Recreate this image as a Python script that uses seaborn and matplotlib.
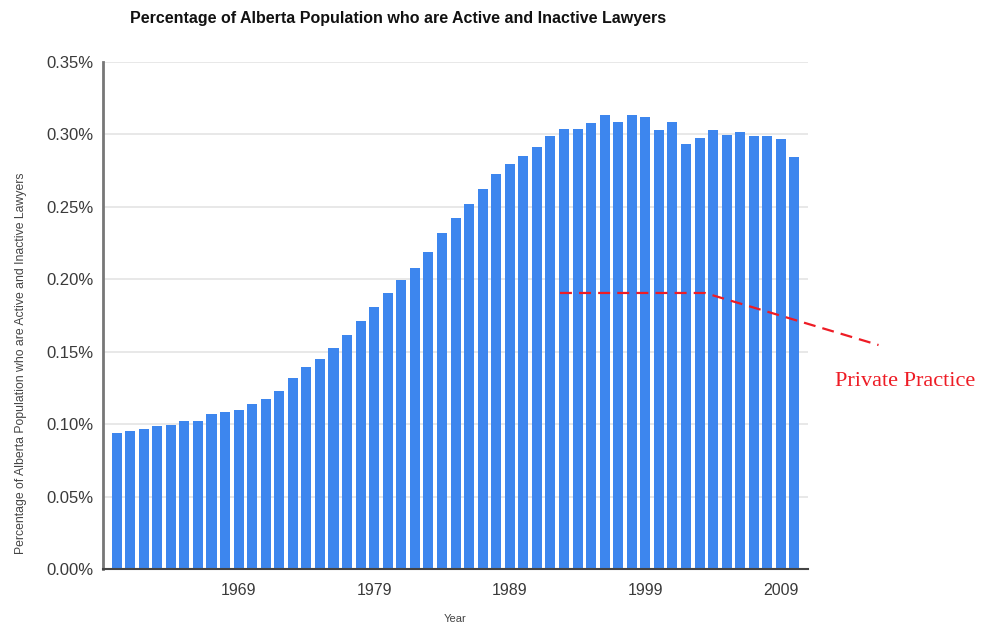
import numpy as np
import pandas as pd
import seaborn as sns
import matplotlib.pyplot as plt
from matplotlib.ticker import FuncFormatter

# Data (percent of Alberta population)
years = list(range(1960, 2011))
pct_lawyers = [
    0.0941, 0.0953, 0.0965, 0.0990, 0.0997, 0.1022, 0.1024, 0.1068, 0.1086, 0.1100,
    0.1137, 0.1174, 0.1229, 0.1321, 0.1394, 0.1452, 0.1523, 0.1615, 0.1712, 0.1810,
    0.1903, 0.1994, 0.2079, 0.2186, 0.2317, 0.2424, 0.2517, 0.2620, 0.2726, 0.2797,
    0.2850, 0.2914, 0.2988, 0.3038, 0.3034, 0.3079, 0.3132, 0.3084, 0.3132, 0.3121,
    0.3029, 0.3082, 0.2930, 0.2974, 0.3029, 0.2994, 0.3013, 0.2988, 0.2988, 0.2965,
    0.2841,
]
year_ticks = [1969, 1979, 1989, 1999, 2009]
y_ticks = [0.00, 0.05, 0.10, 0.15, 0.20, 0.25, 0.30, 0.35]

# hand-drawn "Private Practice" marker line
pp_x = [1992.7, 2003.4, 2016.2]
pp_y = [0.1905, 0.1905, 0.1546]

df = pd.DataFrame({"Year": years, "Pct": pct_lawyers})

sns.set_style("white")
plt.rcParams["font.family"] = ["Liberation Sans", "DejaVu Sans"]

fig = plt.figure(figsize=(9.86, 6.27), dpi=100)
ax = fig.add_axes([0.1045, 0.0922, 0.715, 0.8094])

sns.barplot(data=df, x="Year", y="Pct", native_scale=True, width=0.74,
            color="#3d86ee", saturation=1, linewidth=0, ax=ax, zorder=2)

ax.set_xlim(1959, 2011)
ax.set_ylim(0, 0.35)
ax.set_yticks(y_ticks)
ax.yaxis.set_major_formatter(FuncFormatter(lambda v, p: f"{v:.2f}%"))
ax.set_xticks(year_ticks)
ax.set_xticklabels([str(y) for y in year_ticks])

ax.grid(axis="y", color="#e8e8e8", linewidth=1.4, zorder=0)
ax.set_axisbelow(True)
for s in ["top", "right"]:
    ax.spines[s].set_visible(False)
ax.spines["left"].set_color("#777777")
ax.spines["left"].set_linewidth(2)
ax.spines["bottom"].set_color("#444444")
ax.spines["bottom"].set_linewidth(1.5)

ax.tick_params(axis="y", length=4, color="#bbbbbb", labelsize=12, labelcolor="#3a3a3a", pad=3)
ax.tick_params(axis="x", length=4, color="#cccccc", labelsize=11.5, labelcolor="#3a3a3a", pad=6)

ax.set_xlabel("Year", fontsize=8, color="#444444")
ax.xaxis.set_label_coords(0.5, -0.088)
ax.set_ylabel("Percentage of Alberta Population who are Active and Inactive Lawyers",
              fontsize=8.8, color="#444444")
ax.yaxis.set_label_coords(-0.108, 0.405)

fig.text(130 / 986, 1 - 18 / 627,
         "Percentage of Alberta Population who are Active and Inactive Lawyers",
         fontsize=11.5, fontweight="bold", ha="left", va="center", color="#111111")

ax.plot(pp_x, pp_y, color="#ee1c25", linewidth=1.6, linestyle=(0, (5.4, 3.2)),
        clip_on=False, zorder=5)
fig.text(835 / 986, 1 - 381 / 627, "Private Practice", fontsize=16,
         family="Liberation Serif", color="#ee1c25", ha="left", va="center")

fig.savefig("out.png", dpi=100)
